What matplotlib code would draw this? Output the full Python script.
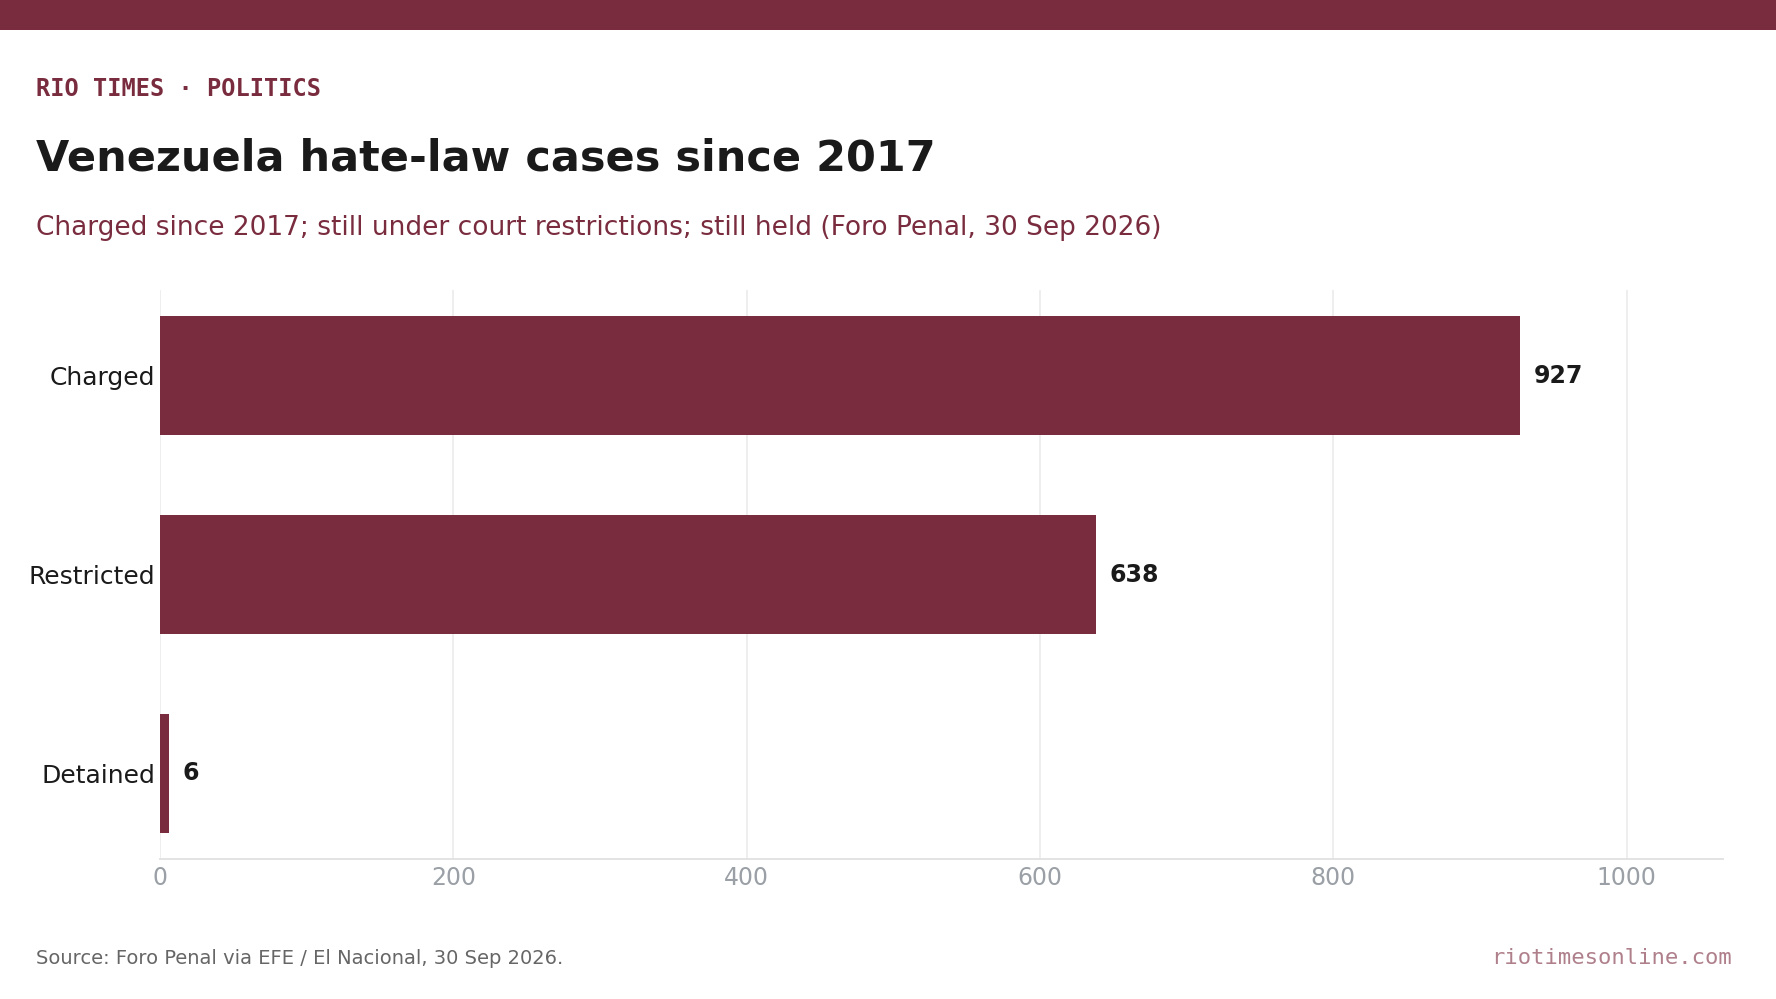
import matplotlib
matplotlib.use("Agg")
import matplotlib.pyplot as plt
from matplotlib.patches import Rectangle

categories = ["Charged", "Restricted", "Detained"]
values = [927, 638, 6]
xticks = [0, 200, 400, 600, 800, 1000]

BRAND = "#7a2c3f"
DARK = "#1a1a1a"

fig = plt.figure(figsize=(17.76, 9.99), dpi=100)
fig.patch.set_facecolor("white")

# top band
fig.patches.append(Rectangle((0, 0.970), 1, 0.030, transform=fig.transFigure,
                             facecolor=BRAND, edgecolor="none", zorder=0))

fig.text(0.0203, 0.904, "RIO TIMES · POLITICS", family="DejaVu Sans Mono",
         fontweight="bold", fontsize=17, color=BRAND, va="baseline", ha="left")
fig.text(0.0203, 0.829, "Venezuela hate-law cases since 2017", family="DejaVu Sans",
         fontweight="bold", fontsize=31, color=DARK, va="baseline", ha="left")
fig.text(0.0203, 0.765,
         "Charged since 2017; still under court restrictions; still held (Foro Penal, 30 Sep 2026)",
         family="DejaVu Sans", fontsize=19, color=BRAND, va="baseline", ha="left")

ax = fig.add_axes([0.0901, 0.1401, 0.8803, 0.5696])
y = list(range(len(categories)))
ax.barh(y, values, height=0.6, color=BRAND, zorder=3)
ax.invert_yaxis()
ax.set_xlim(0, max(values) * 1.15)
ax.set_yticks(y)
ax.set_yticklabels(categories, fontsize=18, color=DARK)
ax.set_xticks(xticks)
ax.set_xticklabels([str(t) for t in xticks], fontsize=17, color="#9aa0a6")
ax.tick_params(axis="both", length=0)
ax.tick_params(axis="y", pad=3.5)
ax.tick_params(axis="x", pad=5)
ax.grid(axis="x", color="#ebebeb", linewidth=1.2, zorder=0)
ax.set_axisbelow(True)
for side in ["top", "right", "left"]:
    ax.spines[side].set_visible(False)
ax.spines["bottom"].set_color("#e0e0e0")
ax.spines["bottom"].set_linewidth(1.3)

for yi, v in zip(y, values):
    ax.annotate(str(v), xy=(v, yi), xytext=(10, 0), textcoords="offset points",
                ha="left", va="center", fontsize=17, fontweight="bold", color=DARK)

fig.text(0.0203, 0.035, "Source: Foro Penal via EFE / El Nacional, 30 Sep 2026.",
         family="DejaVu Sans", fontsize=14, color="#666666", va="baseline", ha="left")
fig.text(0.975, 0.035, "riotimesonline.com", family="DejaVu Sans Mono",
         fontsize=16, color=BRAND, alpha=0.6, va="baseline", ha="right")

fig.savefig("out.png", dpi=100, facecolor="white")
